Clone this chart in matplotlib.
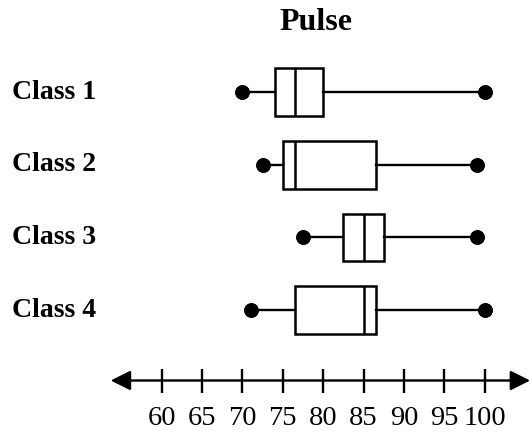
import matplotlib
matplotlib.use("Agg")
from matplotlib import pyplot as plt

# five-number summaries
classes = ["Class 1", "Class 2", "Class 3", "Class 4"]
mins = [70, 72.5, 77.5, 71]
q1s = [74, 75, 82.5, 76.5]
medians = [76.5, 76.5, 85, 85]
q3s = [80, 86.5, 87.5, 86.5]
maxs = [100, 99, 99, 100]
ticks = [60, 65, 70, 75, 80, 85, 90, 95, 100]

plt.rcParams['font.family'] = ['Liberation Serif', 'DejaVu Serif']

fig = plt.figure(figsize=(5.32, 4.33), dpi=100)
ax = fig.add_axes([0, 0, 1, 1])

stats = []
for i in range(len(classes)):
    stats.append(dict(label=classes[i], whislo=mins[i], q1=q1s[i], med=medians[i],
                      q3=q3s[i], whishi=maxs[i], fliers=[]))

pos = [1, 2, 3, 4]
lw = 1.8
ax.bxp(stats, positions=pos, vert=False, widths=0.66, capwidths=0,
       showfliers=False, patch_artist=True,
       boxprops=dict(facecolor='white', edgecolor='black', linewidth=lw),
       medianprops=dict(color='black', linewidth=lw),
       whiskerprops=dict(color='black', linewidth=1.7),
       capprops=dict(color='black', marker='o', markersize=9.5, linewidth=0))

# number line
line_y = 4.97
ax.annotate('', xy=(105.6, line_y), xytext=(53.7, line_y),
            arrowprops=dict(arrowstyle='<|-|>', color='black', lw=1.7,
                            mutation_scale=30, shrinkA=0, shrinkB=0))
ax.spines[['top', 'right', 'left', 'bottom']].set_visible(False)
ax.spines['bottom'].set_position(('data', line_y))
ax.set_xticks(ticks)
ax.set_xticklabels([str(t) for t in ticks], fontsize=20.5)
ax.tick_params(axis='x', direction='inout', length=17, width=1.7, pad=10)
ax.set_yticks([])

ax.set_xlim(40, 105.83)
ax.set_ylim(5.693, -0.271)

for p, name in zip(pos, classes):
    ax.text(0.022, p, name, transform=ax.get_yaxis_transform(),
            ha='left', va='center', fontsize=20, fontweight='bold')

fig.text(316 / 532, 1 - 23 / 433, "Pulse", ha='center', va='center',
         fontsize=23, fontweight='bold')

fig.savefig("out.png", dpi=100)
